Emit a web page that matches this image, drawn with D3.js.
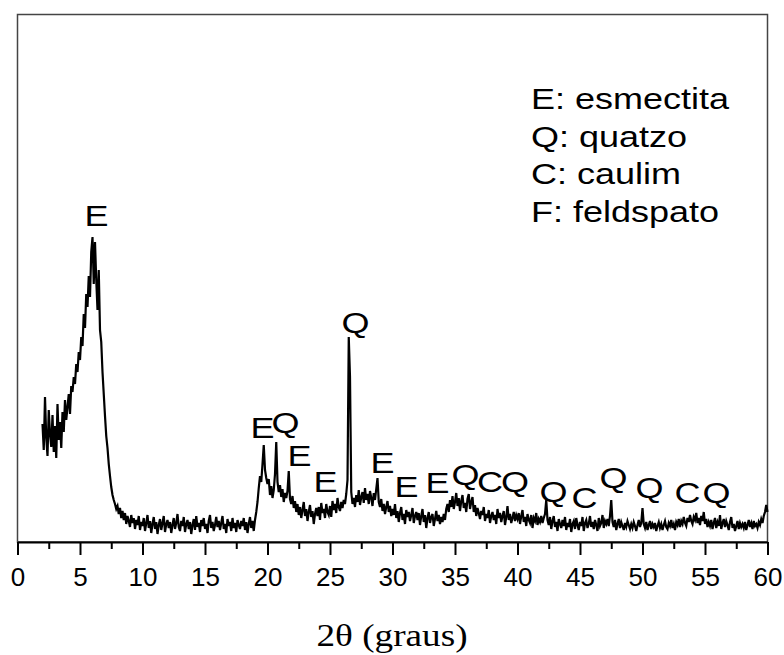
<!DOCTYPE html>
<html>
<head>
<meta charset="utf-8">
<script src="https://cdn.jsdelivr.net/npm/d3@7"></script>
<style>
  body { margin: 0; background: #fff; }
  svg text { font-family: "Liberation Sans", Arial, sans-serif; fill: #000; }
</style>
</head>
<body>
<svg id="xrd" width="784" height="655"></svg>
<script>
// XRD pattern, 2θ from 2 to 60 deg, one reading every 0.1 deg (rows of 2 deg)
const startAngle = 2;
const stepAngle = 0.1;
const counts = [
  /* 2 */  118, 92, 145, 104, 86, 132, 108, 95, 127, 90, 116, 84, 138, 102, 120, 94, 130, 110, 142, 122,
  /* 4 */  135, 148, 128, 156, 150, 165, 158, 178, 170, 190, 182, 205, 196, 228, 214, 248, 235, 266, 245, 290,
  /* 6 */  305, 258, 300, 262, 232, 272, 212, 200, 170, 148, 126, 106, 94, 78, 66, 55, 47, 42, 38, 33,
  /* 8 */  36, 28, 34, 24, 31, 22, 29, 18, 26, 21, 15, 27, 19, 24, 13, 22, 17, 26, 12, 20,
  /* 10 */ 16, 24, 11, 19, 27, 14, 21, 9, 18, 25, 13, 20, 8, 17, 23, 12, 19, 26, 10, 18,
  /* 12 */ 22, 14, 20, 9, 17, 24, 13, 19, 28, 15, 11, 21, 16, 25, 10, 18, 22, 13, 20, 8,
  /* 14 */ 17, 23, 12, 26, 15, 19, 10, 22, 16, 24, 13, 18, 9, 21, 27, 14, 20, 11, 17, 25,
  /* 16 */ 15, 21, 12, 19, 26, 13, 18, 9, 23, 16, 20, 11, 24, 14, 19, 10, 22, 17, 13, 21,
  /* 18 */ 16, 24, 12, 20, 9, 18, 25, 14, 21, 11, 22, 30, 40, 54, 66, 60, 78, 97, 72, 64,
  /* 20 */ 58, 63, 47, 56, 44, 52, 68, 100, 60, 50, 57, 45, 53, 40, 49, 44, 51, 71, 43, 38,
  /* 22 */ 46, 34, 41, 30, 38, 27, 35, 24, 32, 40, 26, 33, 21, 30, 37, 25, 31, 18, 28, 34,
  /* 24 */ 26, 35, 22, 39, 29, 33, 24, 38, 30, 27, 36, 25, 41, 32, 38, 29, 44, 35, 31, 40,
  /* 26 */ 34, 42, 38, 48, 62, 205, 165, 50, 38, 44, 35, 47, 40, 52, 37, 45, 50, 39, 54, 42,
  /* 28 */ 48, 38, 51, 44, 36, 49, 42, 53, 64, 40, 35, 43, 31, 38, 28, 35, 41, 30, 36, 26,
  /* 30 */ 33, 27, 38, 24, 31, 20, 29, 35, 22, 28, 18, 32, 25, 30, 21, 27, 34, 19, 26, 30,
  /* 32 */ 22, 29, 17, 26, 33, 20, 27, 14, 24, 30, 19, 25, 28, 16, 23, 31, 21, 27, 18, 25,
  /* 34 */ 20, 28, 22, 33, 38, 30, 42, 35, 46, 33, 40, 49, 36, 44, 31, 41, 47, 34, 39, 30,
  /* 36 */ 43, 48, 33, 40, 45, 30, 37, 26, 34, 29, 23, 31, 27, 35, 21, 28, 24, 32, 19, 26,
  /* 38 */ 30, 22, 27, 18, 33, 24, 29, 20, 26, 31, 17, 25, 36, 22, 28, 19, 24, 30, 21, 27,
  /* 40 */ 23, 29, 18, 26, 32, 20, 25, 16, 28, 22, 19, 27, 14, 24, 21, 29, 17, 23, 20, 26,
  /* 42 */ 19, 24, 28, 42, 22, 17, 25, 13, 21, 26, 15, 20, 11, 23, 18, 14, 22, 16, 25, 12,
  /* 44 */ 19, 15, 23, 10, 18, 21, 13, 24, 17, 12, 20, 16, 25, 11, 19, 22, 14, 18, 26, 15,
  /* 46 */ 20, 13, 22, 17, 11, 24, 16, 19, 27, 14, 21, 18, 23, 16, 26, 42, 20, 15, 22, 12,
  /* 48 */ 18, 23, 14, 20, 16, 12, 19, 15, 21, 17, 13, 18, 14, 20, 16, 11, 17, 22, 15, 19,
  /* 50 */ 34, 18, 14, 20, 12, 17, 21, 13, 18, 15, 19, 11, 16, 20, 14, 18, 12, 17, 21, 15,
  /* 52 */ 13, 19, 16, 22, 14, 18, 12, 20, 17, 23, 15, 21, 18, 25, 19, 16, 24, 20, 27, 21,
  /* 54 */ 18, 25, 22, 29, 19, 24, 17, 26, 21, 30, 18, 23, 15, 20, 16, 22, 13, 19, 24, 14,
  /* 56 */ 20, 16, 27, 13, 19, 23, 15, 21, 17, 12, 20, 25, 14, 18, 11, 16, 21, 13, 19, 15,
  /* 58 */ 18, 14, 20, 12, 17, 22, 15, 19, 13, 21, 16, 18, 14, 20, 17, 23, 19, 26, 30, 37,
  /* 60 */ 30
];

// phase letters over the peaks: letter, 2θ, counts at text baseline
const peakLetters = ["E", "E", "Q", "E", "E", "Q", "E", "E", "E", "Q", "C", "Q", "Q", "C", "Q", "Q", "C", "Q"];
const peakAngles  = [6.32, 19.6, 21.44, 22.56, 24.64, 27.04, 29.2, 31.12, 33.6, 35.85, 37.8, 39.8, 42.88, 45.36, 47.68, 50.56, 53.6, 55.92];
const peakLevels  = [316, 104, 109, 76, 50, 209, 69, 45, 49, 57, 50, 50, 40, 34, 54, 44, 39, 39];

const legendLines = ["E: esmectita", "Q: quatzo", "C: caulim", "F: feldspato"];
const majorTicks = [0, 5, 10, 15, 20, 25, 30, 35, 40, 45, 50, 55, 60];
const minorTicks = [2.5, 7.5, 12.5, 17.5, 22.5, 27.5, 32.5, 37.5, 42.5, 47.5, 52.5, 57.5];
const xTitle = "2θ (graus)";

const svg = d3.select('#xrd');
const plotLeft = 17.5, plotRight = 767.5, plotTop = 14.5, plotBottom = 542;
const labelSize = 30, stretch = 1.2;

const x = d3.scaleLinear().domain([0, 60]).range([plotLeft, plotRight]);
const y = d3.scaleLinear().domain([0, 527.5]).range([plotBottom, plotTop]);

const pattern = counts.map((c, i) => ({ angle: startAngle + i * stepAngle, value: c }));

// frame
svg.append('rect')
	.attr('x', plotLeft).attr('y', plotTop)
	.attr('width', plotRight - plotLeft).attr('height', plotBottom - plotTop)
	.attr('fill', 'none')
	.attr('stroke', '#444')
	.attr('stroke-width', 1.5);

svg.append('path')
	.datum(pattern)
	.attr('fill', 'none')
	.attr('stroke', '#000')
	.attr('stroke-width', 2.2)
	.attr('d', d3.line().x(d => x(d.angle)).y(d => y(d.value)));

// minor ticks
svg.append('g')
	.attr('transform', `translate(0,${plotBottom})`)
	.call(d3.axisBottom(x).tickValues(minorTicks).tickSize(7).tickFormat(''))
	.call(g => g.select('.domain').remove())
	.selectAll('line').attr('stroke-width', 2);

const xAxis = svg.append('g')
	.attr('transform', `translate(0,${plotBottom})`)
	.call(d3.axisBottom(x).tickValues(majorTicks).tickSize(13).tickSizeOuter(0).tickPadding(13).tickFormat(d3.format('d')));
xAxis.select('.domain').attr('stroke-width', 2);
xAxis.selectAll('line').attr('stroke-width', 2);
xAxis.selectAll('text')
	.attr('font-size', 26)
	.attr('font-family', '"Liberation Sans", Arial, sans-serif');

svg.append('text')
	.attr('transform', 'translate(392,646) scale(1.2,1)')
	.attr('text-anchor', 'middle')
	.style('font-family', '"Liberation Serif", "Times New Roman", serif')
	.attr('font-size', 31)
	.text(xTitle);

// peak letters
svg.append('g').selectAll('text')
	.data(peakLetters)
	.join('text')
	.attr('transform', (d, i) => `translate(${x(peakAngles[i])},${y(peakLevels[i])}) scale(${stretch},1)`)
	.attr('text-anchor', 'middle')
	.attr('font-size', labelSize)
	.text(d => d);

// legend
svg.append('g').selectAll('text')
	.data(legendLines)
	.join('text')
	.attr('transform', (d, i) => `translate(531,${109 + i * 37.7}) scale(${stretch},1)`)
	.attr('font-size', labelSize)
	.text(d => d);
</script>
</body>
</html>
